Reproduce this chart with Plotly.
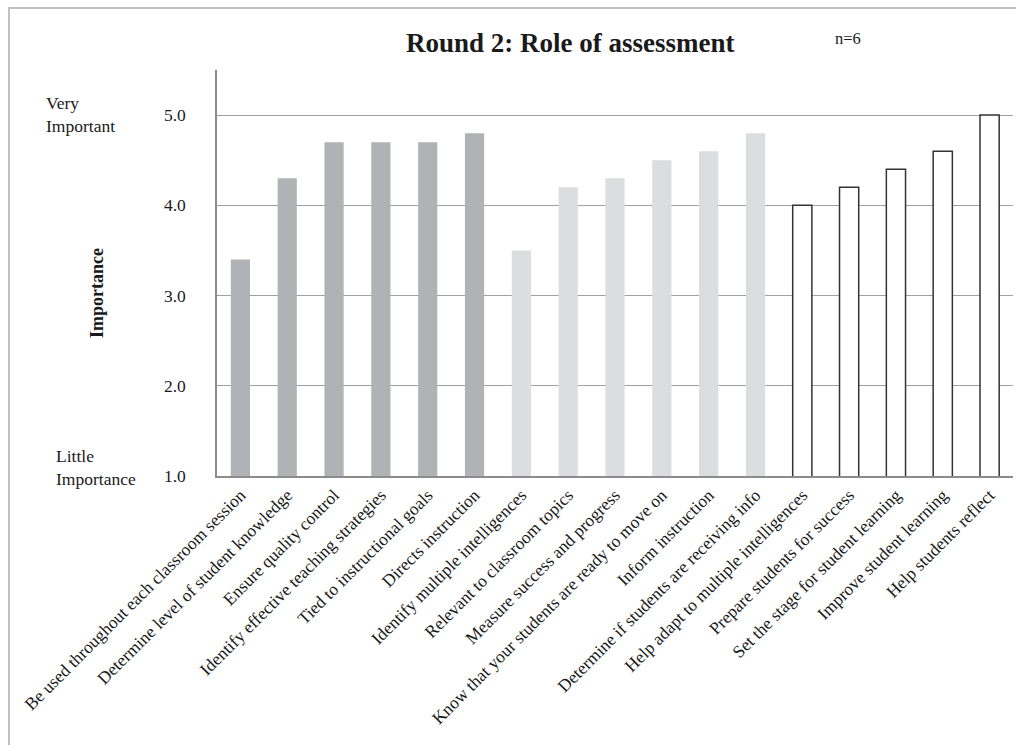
import plotly.graph_objects as go

categories = [
    "Be used throughout each classroom session",
    "Determine level of student knowledge",
    "Ensure quality control",
    "Identify effective teaching strategies",
    "Tied to instructional goals",
    "Directs instruction",
    "Identify multiple intelligences",
    "Relevant to classroom topics",
    "Measure success and progress",
    "Know that your students are ready to move on",
    "Inform instruction",
    "Determine if students are receiving info",
    "Help adapt to multiple intelligences",
    "Prepare students for success",
    "Set the stage for student learning",
    "Improve student learning",
    "Help students reflect",
]
values = [3.4, 4.3, 4.7, 4.7, 4.7, 4.8,
          3.5, 4.2, 4.3, 4.5, 4.6, 4.8,
          4.0, 4.2, 4.4, 4.6, 5.0]
groups = [0] * 6 + [1] * 6 + [2] * 5
y_ticks = [1, 2, 3, 4, 5]
y_tick_labels = ["1.0", "2.0", "3.0", "4.0", "5.0"]

styles = [
    dict(color="#b1b2b5", line=dict(width=0)),
    dict(color="#dcdddf", line=dict(width=0)),
    dict(color="#ffffff", line=dict(color="#333333", width=1.5)),
]

fig = go.Figure()
for g, st in enumerate(styles):
    xs = [c for c, gg in zip(categories, groups) if gg == g]
    ys = [v for v, gg in zip(values, groups) if gg == g]
    fig.add_trace(go.Bar(x=xs, y=ys, marker=st, showlegend=False))

L, R, T, B = 217, 1013, 70, 476
W, H = R - L, B - T
serif = "Liberation Serif, Times New Roman, serif"


def px(x):
    return (x - L) / W


def py(y):
    return (B - y) / H


fig.update_layout(
    width=1016, height=745,
    margin=dict(l=L, r=1016 - R, t=T, b=745 - B),
    paper_bgcolor="white", plot_bgcolor="white",
    bargap=0.59, barmode="overlay",
    font=dict(family=serif, size=17.5, color="#1a1a1a"),
    xaxis=dict(
        type="category", categoryorder="array", categoryarray=categories,
        tickangle=-45, showline=True, linecolor="#8c8c8c", linewidth=2,
        ticks="", showgrid=False, automargin=False,
        tickfont=dict(size=17.5, family=serif),
    ),
    yaxis=dict(
        range=[1, 5.5], tickvals=y_ticks, ticktext=y_tick_labels,
        showline=True, linecolor="#8c8c8c", linewidth=1.5,
        showgrid=True, gridcolor="#a0a0a0", gridwidth=1,
        ticks="", ticklabelstandoff=26, zeroline=False, automargin=False,
        tickfont=dict(size=17.5, family=serif),
    ),
    shapes=[dict(type="rect", xref="paper", yref="paper",
                 x0=px(9), x1=px(1100), y0=py(900), y1=py(8),
                 line=dict(color="#c0c0c0", width=2), layer="below")],
    annotations=[
        dict(text="<b>Round 2: Role of assessment</b>", xref="paper", yref="paper",
             x=px(570), y=py(43), xanchor="center", yanchor="middle",
             showarrow=False, font=dict(size=27, family=serif, color="#1a1a1a")),
        dict(text="n=6", xref="paper", yref="paper",
             x=px(848), y=py(39), xanchor="center", yanchor="middle",
             showarrow=False, font=dict(size=16.5, family=serif, color="#1a1a1a")),
        dict(text="<b>Importance</b>", xref="paper", yref="paper",
             x=px(97), y=py(293), xanchor="center", yanchor="middle",
             textangle=-90, showarrow=False, font=dict(size=18, family=serif, color="#1a1a1a")),
        dict(text="Very<br>Important", xref="paper", yref="paper",
             x=px(44), y=py(114), xanchor="left", yanchor="middle",
             align="left", showarrow=False, font=dict(size=17.5, family=serif, color="#1a1a1a")),
        dict(text="Little<br>Importance", xref="paper", yref="paper",
             x=px(54), y=py(467), xanchor="left", yanchor="middle",
             align="left", showarrow=False, font=dict(size=17.5, family=serif, color="#1a1a1a")),
    ],
)

fig.write_html(
    "out.html",
    config={"displayModeBar": False},
    post_script="document.body.style.margin='0';document.body.style.overflow='hidden';",
)
